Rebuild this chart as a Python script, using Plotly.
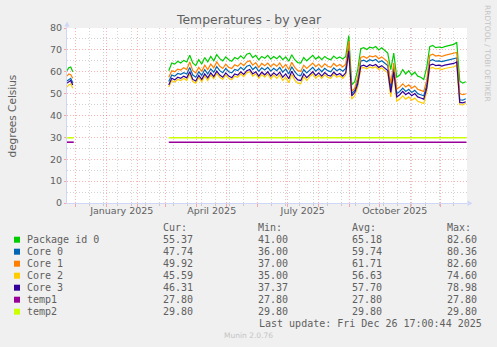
import plotly.graph_objects as go
import pandas as pd

# ---------------- data ----------------
series_names = ["Package id 0", "Core 0", "Core 1", "Core 2", "Core 3", "temp1", "temp2"]
cur_vals = [55.37, 47.74, 49.92, 45.59, 46.31, 27.80, 29.80]
min_vals = [41.00, 36.00, 37.00, 35.00, 37.37, 27.80, 29.80]
avg_vals = [65.18, 59.74, 61.71, 56.63, 57.70, 27.80, 29.80]
max_vals = [82.60, 80.36, 82.60, 74.60, 78.98, 27.80, 29.80]

month_labels = ["January 2025", "April 2025", "July 2025", "October 2025"]
month_label_dates = ["2025-01-16", "2025-04-16", "2025-07-16", "2025-10-16"]

x_range = ["2024-11-22 06:00", "2025-12-27 06:00"]

# first short segment (late Nov 2024)
seg1_dates = ["2024-11-22 06:00", "2024-11-24", "2024-11-26", "2024-11-28"]
pkg_seg1 = [60.5, 61.8, 62.2, 60.0]
core0_seg1 = [55.8, 56.5, 57.0, 55.0]
core1_seg1 = [58.0, 59.0, 58.6, 57.0]
core2_seg1 = [53.0, 54.0, 54.5, 52.5]
core3_seg1 = [54.8, 55.5, 56.0, 54.0]

gap_date = "2025-01-15"

# main segment, one reading every 3 days from 2025-03-04
seg2_start = "2025-03-04"
pkg_seg2 = [60.5, 64.0, 63.5, 64.8, 64.0, 65.2, 64.5, 67.5, 64.0, 62.8,
            65.5, 63.5, 66.5, 64.5, 67.0, 65.0, 67.8, 66.0, 65.0, 66.8,
            65.5, 64.8, 66.5, 65.8, 67.3, 66.0, 68.0, 68.5, 66.5, 67.5,
            65.5, 67.0, 66.2, 67.5, 65.8, 67.0, 66.0, 67.3, 65.5, 66.8,
            64.8, 67.8, 65.5, 64.2, 64.0, 66.5, 65.0, 66.3, 67.5, 65.8,
            66.9, 65.5, 67.0, 66.0, 65.5, 67.2, 66.0, 66.8, 65.8, 67.0,
            76.5, 54.0, 55.5, 61.0, 70.5, 71.0, 70.2, 71.2, 70.8, 71.5,
            70.0, 71.0, 69.5, 68.5, 61.0, 68.5, 57.5, 58.5, 61.0, 59.0,
            60.5, 58.5, 59.8, 58.0, 57.5, 56.5, 62.0, 71.5, 72.0, 71.0,
            71.3, 71.0, 71.5, 71.8, 72.0, 72.5, 73.5, 55.8, 54.8, 55.4]
core1_seg2 = [57.5, 60.5, 60.0, 61.2, 60.8, 61.8, 61.0, 64.5, 60.5, 59.5,
              62.0, 60.2, 63.0, 61.0, 63.5, 61.8, 64.5, 62.5, 61.5, 63.5,
              62.0, 61.5, 63.2, 62.5, 64.0, 62.8, 64.5, 65.0, 63.0, 64.2,
              62.0, 63.8, 62.8, 64.0, 62.3, 63.6, 62.5, 64.0, 61.8, 63.3,
              61.0, 64.3, 62.0, 60.5, 60.2, 63.0, 61.5, 62.8, 64.0, 62.3,
              63.5, 62.0, 63.6, 62.5, 62.0, 63.8, 62.5, 63.3, 62.2, 63.5,
              74.0, 51.0, 52.5, 57.5, 66.5, 67.0, 66.2, 67.2, 66.8, 67.3,
              66.0, 66.8, 65.5, 64.5, 54.5, 64.0, 52.0, 53.0, 54.5, 53.0,
              54.0, 52.5, 53.5, 52.0, 51.5, 51.0, 56.0, 67.5, 68.0, 67.2,
              67.5, 67.0, 67.5, 67.8, 68.0, 68.3, 68.8, 50.0, 49.5, 49.9]
core0_seg2 = [55.5, 58.5, 58.0, 59.2, 58.8, 59.6, 59.0, 62.0, 58.5, 57.5,
              60.0, 58.3, 61.0, 59.0, 61.3, 59.8, 62.3, 60.5, 59.6, 61.5,
              60.0, 59.5, 61.0, 60.5, 62.0, 60.8, 62.5, 63.0, 61.0, 62.2,
              60.2, 61.8, 60.8, 62.0, 60.3, 61.6, 60.5, 62.0, 59.8, 61.3,
              59.0, 62.3, 60.0, 58.5, 58.2, 61.0, 59.5, 60.8, 62.0, 60.3,
              61.5, 60.0, 61.6, 60.5, 60.0, 61.8, 60.5, 61.3, 60.2, 61.5,
              71.0, 50.0, 51.5, 56.0, 64.8, 65.3, 64.6, 65.5, 65.0, 65.6,
              64.3, 65.0, 63.8, 62.8, 52.5, 62.0, 50.0, 51.0, 52.5, 51.0,
              52.0, 50.5, 51.5, 50.0, 49.5, 49.0, 54.0, 65.0, 65.5, 64.8,
              65.0, 64.6, 65.0, 65.3, 65.5, 65.8, 66.3, 47.2, 47.0, 47.7]
core3_seg2 = [54.0, 57.0, 56.3, 57.5, 57.0, 58.0, 57.2, 60.0, 56.5, 55.8,
              58.3, 56.5, 59.0, 57.2, 59.5, 57.8, 60.3, 58.5, 57.5, 59.5,
              58.0, 57.3, 59.0, 58.5, 60.0, 58.8, 60.5, 61.0, 59.0, 60.0,
              58.0, 59.8, 58.6, 60.0, 58.0, 59.5, 58.3, 59.8, 57.5, 59.0,
              56.8, 60.2, 57.8, 56.3, 56.0, 59.0, 57.3, 58.8, 60.0, 58.2,
              59.5, 58.0, 59.6, 58.4, 58.0, 59.8, 58.5, 59.2, 58.0, 59.5,
              69.5, 49.0, 50.5, 54.5, 62.5, 63.0, 62.3, 63.2, 62.7, 63.3,
              62.0, 62.8, 61.5, 60.5, 50.5, 60.0, 48.5, 49.5, 51.0, 49.5,
              50.5, 49.0, 50.0, 48.5, 48.0, 47.5, 52.5, 63.0, 63.5, 62.8,
              63.0, 62.6, 63.0, 63.3, 63.5, 63.8, 64.5, 46.0, 45.8, 46.3]
core2_seg2 = [53.0, 56.0, 55.3, 56.5, 56.0, 57.0, 56.0, 59.0, 55.5, 54.8,
              57.3, 55.5, 58.0, 56.0, 58.5, 56.8, 59.2, 57.5, 56.5, 58.5,
              57.0, 56.3, 58.0, 57.5, 59.0, 57.8, 59.5, 60.0, 58.0, 59.0,
              57.0, 58.8, 57.5, 59.0, 56.8, 58.5, 57.0, 58.5, 56.0, 57.5,
              55.0, 58.8, 56.2, 54.8, 54.5, 57.8, 56.0, 57.8, 59.0, 57.0,
              58.5, 57.0, 58.6, 57.4, 57.0, 58.8, 57.5, 58.2, 57.0, 58.5,
              68.0, 47.5, 49.0, 53.0, 61.5, 62.0, 61.3, 62.2, 61.7, 62.3,
              61.0, 61.8, 60.5, 59.5, 48.5, 58.5, 46.5, 47.5, 49.0, 47.5,
              48.5, 47.0, 48.0, 46.5, 46.0, 45.5, 51.0, 61.5, 62.0, 61.3,
              61.5, 61.0, 61.5, 61.8, 62.0, 62.3, 63.0, 45.0, 44.8, 45.6]

temp_dates = ["2024-11-22 06:00", "2024-11-29", gap_date, "2025-03-04", "2025-12-26 18:00"]
temp1_vals = [27.8, 27.8, None, 27.8, 27.8]
temp2_vals = [29.8, 29.8, None, 29.8, 29.8]

colors = ["#00CC00", "#0066B3", "#FF8000", "#FFCC00", "#330099", "#990099", "#CCFF00"]

# ---------------- build ----------------
L, T, W, H = 67, 28, 400, 175
FIG_W, FIG_H = 497, 347


def px(x):
    return (x - L) / W


def py(y):
    return (T + H - y) / H


def seg2_dates(vals):
    return pd.date_range(seg2_start, periods=len(vals), freq="3D").strftime("%Y-%m-%d").tolist()


core_series = [
    (pkg_seg1, pkg_seg2),
    (core0_seg1, core0_seg2),
    (core1_seg1, core1_seg2),
    (core2_seg1, core2_seg2),
    (core3_seg1, core3_seg2),
]

fig = go.Figure()
for k, (a, b) in enumerate(core_series):
    fig.add_trace(go.Scatter(
        x=seg1_dates + [gap_date] + seg2_dates(b),
        y=a + [None] + b,
        mode="lines", name=series_names[k],
        line=dict(color=colors[k], width=1.2),
        connectgaps=False, hoverinfo="skip",
    ))
fig.add_trace(go.Scatter(x=temp_dates, y=temp1_vals, mode="lines", name=series_names[5],
                         line=dict(color=colors[5], width=1.6), connectgaps=False, hoverinfo="skip"))
fig.add_trace(go.Scatter(x=temp_dates, y=temp2_vals, mode="lines", name=series_names[6],
                         line=dict(color=colors[6], width=1.6), connectgaps=False, hoverinfo="skip",
                         xaxis="x2"))

MAJ = "rgba(255,0,0,0.30)"
MIN = "rgba(140,140,140,0.38)"
AX = "#CFD6F8"
TXT = "#606060"
DOT = "1px,2px"

fig.update_layout(
    width=FIG_W, height=FIG_H,
    margin=dict(l=L, r=FIG_W - L - W, t=T, b=FIG_H - T - H, pad=0),
    paper_bgcolor="#F0F0F0", plot_bgcolor="#FFFFFF",
    showlegend=False,
    font=dict(family="DejaVu Sans", color=TXT, size=9.5),
    xaxis=dict(
        type="date", range=x_range, showticklabels=False,
        dtick="M1", tick0="2024-12-01",
        showgrid=True, gridcolor=MAJ, griddash=DOT, gridwidth=1,
        ticks="outside", ticklen=3, tickcolor=MAJ,
        minor=dict(dtick=14 * 86400000, tick0="2024-12-15", showgrid=True,
                   gridcolor=MIN, griddash=DOT, gridwidth=1,
                   ticks="outside", ticklen=2, tickcolor=MIN),
        showline=True, linecolor=AX, linewidth=1, zeroline=False,
    ),
    xaxis2=dict(
        type="date", range=x_range, overlaying="x", matches="x", side="bottom",
        tickmode="array", tickvals=month_label_dates, ticktext=month_labels,
        ticks="", showgrid=False, showline=False, zeroline=False,
        tickfont=dict(size=9.5, color=TXT),
    ),
    yaxis=dict(
        range=[0, 80], dtick=10, tick0=0,
        showgrid=True, gridcolor=MAJ, griddash=DOT, gridwidth=1,
        ticks="outside", ticklen=2, tickcolor=MAJ,
        minor=dict(dtick=5, showgrid=True, gridcolor=MIN, griddash=DOT, gridwidth=1),
        showline=True, linecolor=AX, linewidth=1, zeroline=False,
        tickfont=dict(size=9.5, color=TXT),
    ),
)

ann = []
# title
ann.append(dict(text="Temperatures - by year", x=px(248.5), y=py(19), xref="paper", yref="paper",
                xanchor="center", yanchor="middle", showarrow=False,
                font=dict(family="DejaVu Sans", size=12.4, color=TXT)))
# y axis title
ann.append(dict(text="degrees Celsius", x=px(11), y=py(115.5), xref="paper", yref="paper",
                xanchor="center", yanchor="middle", showarrow=False, textangle=-90,
                font=dict(family="DejaVu Sans", size=10.5, color=TXT)))
# watermark right
ann.append(dict(text="RRDTOOL / TOBI OETIKER", x=px(487.3), y=py(53.3), xref="paper", yref="paper",
                xanchor="center", yanchor="middle", showarrow=False, textangle=90,
                font=dict(family="DejaVu Sans", size=7.5, color="#C4C4C4")))
# munin version
ann.append(dict(text="Munin 2.0.76", x=px(248.5), y=py(335.7), xref="paper", yref="paper",
                xanchor="center", yanchor="middle", showarrow=False,
                font=dict(family="DejaVu Sans", size=7.5, color="#C4C4C4")))

MONO = dict(family="DejaVu Sans Mono", size=10, color=TXT)
col_x = [163.3, 257.7, 352.3, 446.7]
headers = ["Cur:", "Min:", "Avg:", "Max:"]
for cx, h in zip(col_x, headers):
    ann.append(dict(text=h, x=px(cx - 2), y=py(227.7), xref="paper", yref="paper",
                    xanchor="left", yanchor="middle", showarrow=False, font=MONO))

shapes = []
for k, name in enumerate(series_names):
    ry = 239.7 + 12 * k
    shapes.append(dict(type="rect", xref="paper", yref="paper",
                       x0=px(14), x1=px(20), y0=py(ry + 3), y1=py(ry - 3),
                       fillcolor=colors[k], line=dict(width=0)))
    ann.append(dict(text=name, x=px(26.7 - 2), y=py(ry), xref="paper", yref="paper",
                    xanchor="left", yanchor="middle", showarrow=False, font=MONO))
    for cx, v in zip(col_x, [cur_vals[k], min_vals[k], avg_vals[k], max_vals[k]]):
        ann.append(dict(text="%.2f" % v, x=px(cx - 2), y=py(ry), xref="paper", yref="paper",
                        xanchor="left", yanchor="middle", showarrow=False, font=MONO))

ann.append(dict(text="Last update: Fri Dec 26 17:00:44 2025", x=px(482.3 + 2), y=py(323.7),
                xref="paper", yref="paper", xanchor="right", yanchor="middle",
                showarrow=False, font=MONO))

# axis arrows
shapes.append(dict(type="path", xref="paper", yref="paper",
                   path="M %f %f L %f %f L %f %f Z" % (px(64.5), py(26.5), px(69.5), py(26.5), px(67), py(21.5)),
                   fillcolor=AX, line=dict(width=0)))
shapes.append(dict(type="line", xref="paper", yref="paper",
                   x0=px(67), x1=px(67), y0=py(28), y1=py(26), line=dict(color=AX, width=1)))
shapes.append(dict(type="path", xref="paper", yref="paper",
                   path="M %f %f L %f %f L %f %f Z" % (px(467.5), py(200.5), px(467.5), py(206), px(472.5), py(203.2)),
                   fillcolor=AX, line=dict(width=0)))

fig.update_layout(annotations=ann, shapes=shapes)
fig.write_html("out.html")
